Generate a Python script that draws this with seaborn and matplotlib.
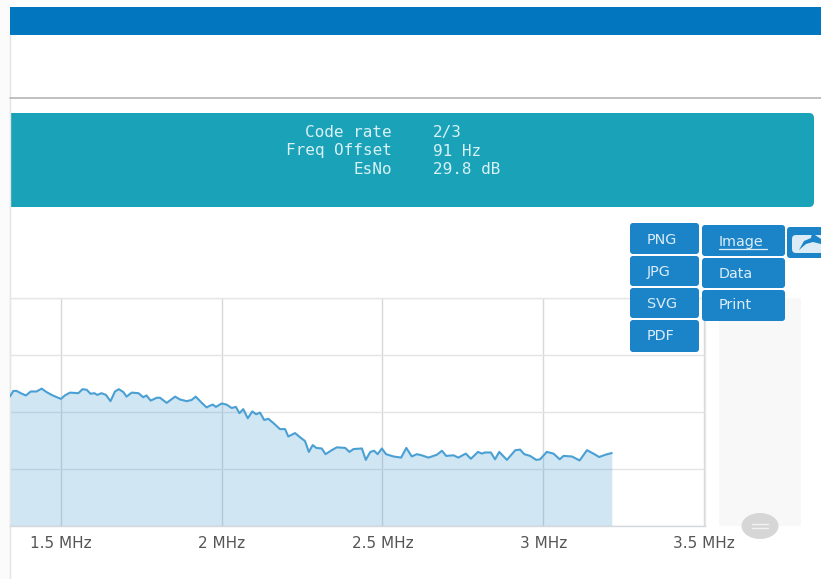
import matplotlib
matplotlib.use("Agg")
import matplotlib.pyplot as plt
from matplotlib.patches import FancyBboxPatch, Rectangle, Ellipse, Polygon
import seaborn as sns
import pandas as pd

freq_mhz = [1.341,1.352,1.362,1.375,1.391,1.406,1.424,1.440,1.455,1.471,1.487,1.5,1.512,1.528,1.554,1.567,1.580,1.592,1.604,1.613,
            1.626,1.640,1.654,1.668,1.680,1.694,1.704,1.720,1.741,1.756,1.766,1.779,1.798,1.808,1.829,1.855,1.870,1.891,1.906,1.919,
            1.938,1.953,1.963,1.972,1.982,2.0,2.015,2.031,2.044,2.055,2.067,2.081,2.095,2.107,2.119,2.132,2.145,2.160,2.181,2.197,
            2.207,2.228,2.243,2.259,2.271,2.283,2.294,2.311,2.323,2.342,2.358,2.384,2.397,2.41,2.436,2.448,2.462,2.474,2.485,2.498,
            2.511,2.534,2.558,2.574,2.591,2.607,2.622,2.643,2.669,2.685,2.698,2.721,2.736,2.759,2.775,2.797,2.809,2.819,2.837,2.850,
            2.863,2.887,2.913,2.928,2.941,2.959,2.978,2.990,3.011,3.032,3.051,3.063,3.089,3.113,3.136,3.156,3.174,3.193,3.213]
level_db = [22.7,23.7,23.7,23.3,22.9,23.6,23.6,24.1,23.5,23.0,22.6,22.3,22.9,23.4,23.3,24.0,23.9,23.2,23.3,23.0,
            23.3,23.0,21.9,23.6,24.0,23.5,22.7,23.4,23.3,22.6,22.9,22.0,22.5,22.5,21.6,22.7,22.2,21.9,22.1,22.7,
            21.6,20.8,21.1,21.3,20.9,21.5,21.3,20.7,20.9,19.8,20.5,18.9,20.1,19.6,19.9,18.6,18.8,18.1,17.0,17.0,
            15.7,16.3,15.6,14.9,13.0,14.2,13.7,13.6,12.6,13.3,13.8,13.7,13.0,13.5,13.6,11.6,13.0,13.2,12.6,13.6,
            12.6,12.2,12.0,13.7,12.2,12.6,12.4,12.0,12.5,13.2,12.3,12.4,12.0,12.7,11.8,13.0,12.7,12.9,12.9,11.7,
            13.0,11.6,13.3,13.4,12.6,12.3,11.6,11.7,13.0,12.7,11.7,12.3,12.2,11.5,13.3,12.7,12.1,12.5,12.8]
x_ticks = [1.5, 2.0, 2.5, 3.0, 3.5]
x_tick_labels = ["1.5 MHz", "2 MHz", "2.5 MHz", "3 MHz", "3.5 MHz"]
y_ticks = [0, 10, 20, 30, 40]
info_names = ["Code rate", "Freq Offset", "EsNo"]
info_values = ["2/3", "91 Hz", "29.8 dB"]
format_buttons = ["PNG", "JPG", "SVG", "PDF"]
action_buttons = ["Image", "Data", "Print"]

sns.set_theme(style="white")
W, H = 821, 579
fig = plt.figure(figsize=(W / 100, H / 100), dpi=100, facecolor="white")

def page_axes(z):
    a = fig.add_axes([0, 0, 1, 1], zorder=z, facecolor="none")
    a.set_xlim(0, W); a.set_ylim(H, 0); a.axis("off")
    return a

def rbox(a, x0, y0, x1, y1, color, r=3, **kw):
    a.add_patch(FancyBboxPatch((x0 + r, y0 + r), x1 - x0 - 2 * r, y1 - y0 - 2 * r,
                               boxstyle=f"round,pad={r},rounding_size={r}", fc=color, ec="none", **kw))

# page chrome under the chart
bg = page_axes(0)
bg.add_patch(Rectangle((0, 0), 10, H, fc="#fbfbfb", ec="none"))
bg.plot([10, 10], [35, H], color="#e4e4e4", lw=1)
bg.add_patch(Rectangle((10, 7), W - 10, 28, fc="#0277c0", ec="none"))
bg.plot([10, W], [98, 98], color="#b5b5b5", lw=1.2)
rbox(bg, 4, 113, 814, 207, "#19a2b8", r=5)
bg.add_patch(Rectangle((0, 113), 10, 94, fc="#fbfbfb", ec="none"))
bg.add_patch(Rectangle((719, 298), 82, 228, fc="#f8f8f8", ec="none"))
for i, (n, v) in enumerate(zip(info_names, info_values)):
    yy = [132.5, 151, 170][i]
    bg.text(392, yy, n, ha="right", va="center", color="#d9f1f5", fontsize=11.5, family="DejaVu Sans Mono")
    bg.text(433, yy, v, ha="left", va="center", color="#d9f1f5", fontsize=11.5, family="DejaVu Sans Mono")

# chart
ax = fig.add_axes([10 / W, (H - 526) / H, 695 / W, 228 / H], zorder=1, facecolor="none")
df = pd.DataFrame({"freq": freq_mhz, "level": level_db})
ax.fill_between(df["freq"], df["level"], 0, color="#3d97d0", alpha=0.24, lw=0, zorder=2)
sns.lineplot(data=df, x="freq", y="level", ax=ax, color="#4a9fd4", lw=1.5, estimator=None, sort=False, zorder=3)
ax.set_xlim(1.3415, 3.503)
ax.set_ylim(0, 40)
ax.set_xticks(x_ticks)
ax.set_xticklabels(x_tick_labels, fontsize=11, color="#555555", family="DejaVu Sans")
ax.set_yticks(y_ticks)
ax.set_yticklabels([])
ax.set_xlabel(""); ax.set_ylabel("")
ax.grid(True, axis="y", color="#e4e4e4", lw=1.0, zorder=1)
ax.grid(True, axis="x", color="#d8d8d8", lw=1.0, zorder=1)
ax.set_axisbelow(True)
ax.tick_params(axis="x", length=0, pad=7)
ax.tick_params(axis="y", length=0)
for s, c in {"top": "#e6e6e6", "right": "#e6e6e6", "left": "#e6e6e6", "bottom": "#d3d8dc"}.items():
    ax.spines[s].set_color(c); ax.spines[s].set_linewidth(1.0)

# buttons over the chart
top = page_axes(2)
BLUE = "#1b84c8"
TXT = "#dcecf7"
fmt_boxes = [(223, 254), (256, 286), (288, 318), (320, 352)]
fmt_text_y = [240, 272, 304, 336]
for name, (y0, y1), ty in zip(format_buttons, fmt_boxes, fmt_text_y):
    rbox(top, 630, y0, 699, y1, BLUE)
    top.text(647, ty, name, ha="left", va="center", color=TXT, fontsize=10.4, family="DejaVu Sans")
act_boxes = [(225, 256), (258, 288), (290, 321)]
act_text_y = [242, 274, 305]
for name, (y0, y1), ty in zip(action_buttons, act_boxes, act_text_y):
    rbox(top, 702, y0, 785, y1, BLUE)
    top.text(719, ty, name, ha="left", va="center", color=TXT, fontsize=10.4, family="DejaVu Sans")
top.plot([719, 767], [249, 249], color=TXT, lw=0.9)
rbox(top, 787, 227, 830, 258, BLUE)
rbox(top, 792, 235, 830, 253, "#dcecf7", r=4)
top.add_patch(Polygon([(799, 250), (804, 241), (811, 238), (812, 233), (821, 239), (821, 244), (813, 242), (806, 244)],
                      fc=BLUE, ec="none"))
top.add_patch(Ellipse((760, 526), 37, 26, fc="#d6d6d6", ec="none"))
top.plot([752, 768], [524, 524], color="#f2f2f2", lw=1)
top.plot([752, 768], [528, 528], color="#f2f2f2", lw=1)

fig.savefig("out.png", dpi=100)
